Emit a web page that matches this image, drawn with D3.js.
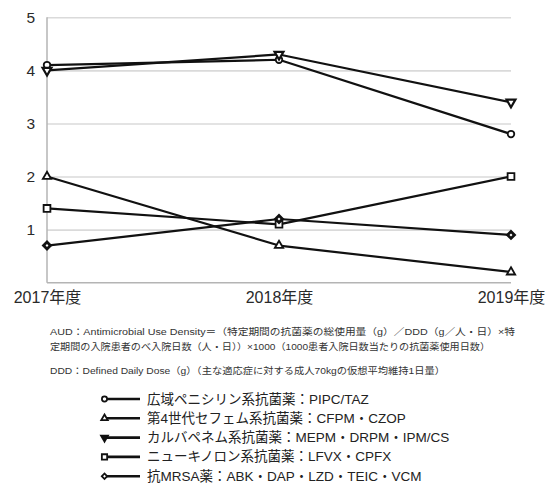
<!DOCTYPE html>
<html lang="ja">
<head>
<meta charset="utf-8">
<script src="https://cdn.jsdelivr.net/npm/d3@7"></script>
<style>
  html, body { margin: 0; padding: 0; background: #fff; }
  svg { display: block; font-family: "Liberation Sans", Arial, "Noto Sans CJK JP", sans-serif; }
</style>
</head>
<body>
<svg id="chart" width="547" height="488"></svg>
<script>
// Fiscal years on the x axis
const years = ["2017年度", "2018年度", "2019年度"];

// AUD per antimicrobial class
const penicillin = [4.1, 4.2, 2.8];
const cephem4 = [2.0, 0.7, 0.2];
const carbapenem = [4.0, 4.3, 3.4];
const quinolone = [1.4, 1.1, 2.0];
const antiMRSA = [0.7, 1.2, 0.9];

const seriesNames = [
  "広域ペニシリン系抗菌薬：PIPC/TAZ",
  "第4世代セフェム系抗菌薬：CFPM・CZOP",
  "カルバペネム系抗菌薬：MEPM・DRPM・IPM/CS",
  "ニューキノロン系抗菌薬：LFVX・CPFX",
  "抗MRSA薬：ABK・DAP・LZD・TEIC・VCM"
];
const markerKinds = ["circle", "triangleUp", "triangleDown", "square", "diamond"];

const yTicks = [1, 2, 3, 4, 5];

const notes = [
  "AUD：Antimicrobial Use Density＝（特定期間の抗菌薬の総使用量（g）／DDD（g／人・日）×特",
  "定期間の入院患者のべ入院日数（人・日））×1000（1000患者入院日数当たりの抗菌薬使用日数）",
  "DDD：Defined Daily Dose（g）（主な適応症に対する成人70kgの仮想平均維持1日量）"
];

const series = [penicillin, cephem4, carbapenem, quinolone, antiMRSA].map((values, i) => ({
  name: seriesNames[i], kind: markerKinds[i], values
}));

const svg = d3.select("#chart");

const x = d3.scalePoint().domain(years).range([47, 511]);
const y = d3.scaleLinear().domain([0, 5]).range([282.7, 17.3]);

// Horizontal gridlines
svg.append("g")
  .attr("transform", "translate(47,0)")
  .call(d3.axisLeft(y).tickValues(yTicks).tickSize(-(511 - 47)).tickFormat(""))
  .call(g => g.select(".domain").remove())
  .call(g => g.selectAll(".tick line").attr("stroke", "#dadada").attr("stroke-width", 1.6));

// Y tick labels
svg.append("g")
  .attr("transform", "translate(35,0)")
  .call(d3.axisLeft(y).tickValues(yTicks).tickSize(0).tickPadding(0).tickFormat(d3.format("d")))
  .call(g => g.select(".domain").remove())
  .call(g => g.selectAll("text")
    .attr("font-size", 15.5).attr("fill", "#2a2a2a")
    .attr("font-family", "Liberation Sans, Arial, sans-serif"));

// Axis lines
svg.append("line")
  .attr("x1", 47).attr("x2", 47).attr("y1", y(5)).attr("y2", y(0))
  .attr("stroke", "#b4b4b4").attr("stroke-width", 1.5);

svg.append("g")
  .attr("transform", `translate(0,${y(0)})`)
  .call(d3.axisBottom(x).tickSize(0).tickPadding(9))
  .call(g => g.select(".domain").attr("stroke", "#b4b4b4").attr("stroke-width", 1.6)
    .attr("d", `M47,0H511`))
  .call(g => g.selectAll("text")
    .attr("font-size", 16).attr("fill", "#2a2a2a")
    .attr("font-family", "Liberation Sans, Arial, 'Noto Sans CJK JP', sans-serif"));

// Marker paths
function markerPath(kind, s) {
  switch (kind) {
    case "circle": return d3.symbol(d3.symbolCircle, 34 * s * s)();
    case "triangleUp": return d3.symbol(d3.symbolTriangle, 30 * s * s)();
    case "triangleDown": return d3.symbol(d3.symbolTriangle, 34 * s * s)();
    case "square": return d3.symbol(d3.symbolSquare, 46 * s * s)();
    case "diamond": return d3.symbol(d3.symbolSquare, 24 * s * s)();
  }
}
function markerRotate(kind) {
  if (kind === "triangleDown") return 180;
  if (kind === "diamond") return 45;
  return 0;
}
function markerStroke(kind) {
  return kind === "diamond" ? 2.8 : (kind === "triangleDown" ? 2.2 : 1.8);
}

const line = d3.line().x((d, i) => x(years[i])).y(d => y(d));

const plot = svg.append("g");
series.forEach(s => {
  plot.append("path")
    .datum(s.values)
    .attr("d", line)
    .attr("fill", "none")
    .attr("stroke", "#111")
    .attr("stroke-width", 2.2)
    .attr("stroke-linejoin", "round");
});
series.forEach(s => {
  plot.selectAll(null)
    .data(s.values)
    .join("path")
    .attr("d", markerPath(s.kind, 1))
    .attr("transform", (d, i) => `translate(${x(years[i])},${y(d)}) rotate(${markerRotate(s.kind)})`)
    .attr("fill", "#fff")
    .attr("stroke", "#111")
    .attr("stroke-width", markerStroke(s.kind));
});

// Notes
const noteY = [331.5, 346.5, 370];
const noteWidths = [465, 440, 395];
svg.append("g")
  .selectAll("text")
  .data(notes)
  .join("text")
  .attr("x", 50)
  .attr("y", (d, i) => noteY[i])
  .attr("dominant-baseline", "central")
  .attr("font-size", 9.6)
  .attr("fill", "#333")
  .attr("textLength", (d, i) => noteWidths[i])
  .attr("lengthAdjust", "spacingAndGlyphs")
  .text(d => d);

// Legend
const legendY = [399, 418.3, 437.6, 456.9, 476.2];
const legend = svg.append("g");
series.forEach((s, i) => {
  const g = legend.append("g").attr("transform", `translate(0,${legendY[i]})`);
  g.append("line")
    .attr("x1", 106).attr("x2", 140)
    .attr("stroke", "#111").attr("stroke-width", 2.6);
  g.append("path")
    .attr("d", markerPath(s.kind, 0.78))
    .attr("transform", `translate(104.5,0) rotate(${markerRotate(s.kind)})`)
    .attr("fill", s.kind === "triangleDown" ? "#111" : "#fff")
    .attr("stroke", "#111")
    .attr("stroke-width", 1.8);
  g.append("text")
    .attr("x", 147)
    .attr("dominant-baseline", "central")
    .attr("font-size", 13.5)
    .attr("fill", "#222")
    .text(s.name);
});
</script>
</body>
</html>
